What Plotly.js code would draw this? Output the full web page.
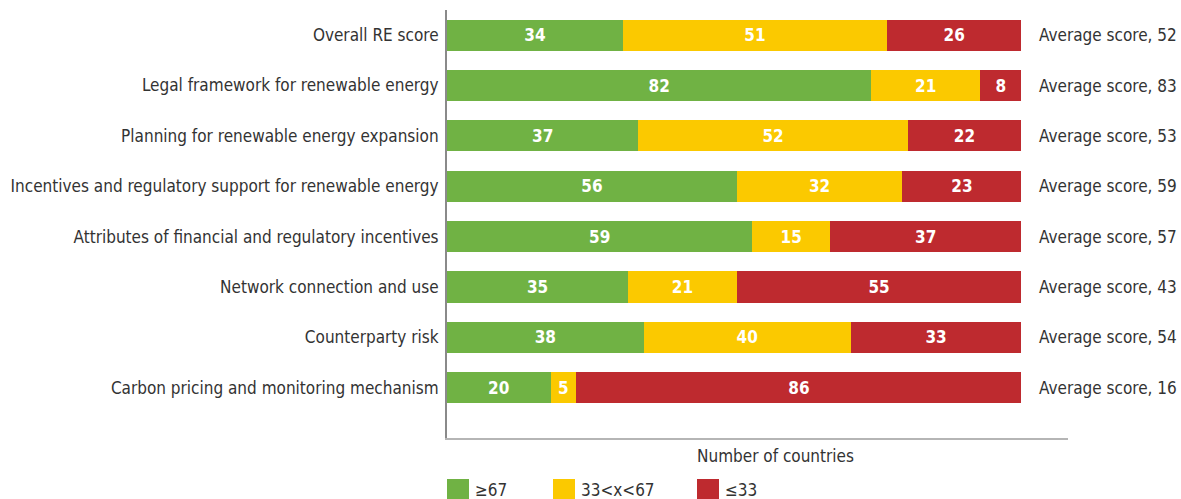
<!DOCTYPE html>
<html><head><meta charset="utf-8">
<script src="https://cdn.plot.ly/plotly-3.0.1.min.js"></script>
<style>html,body{margin:0;padding:0;background:#fff}#chart{width:1181px;height:499px}</style>
</head><body><div id="chart"></div>
<script>
const categories = [
  "Overall RE score",
  "Legal framework for renewable energy",
  "Planning for renewable energy expansion",
  "Incentives and regulatory support for renewable energy",
  "Attributes of financial and regulatory incentives",
  "Network connection and use",
  "Counterparty risk",
  "Carbon pricing and monitoring mechanism"
];
const high = [34, 82, 37, 56, 59, 35, 38, 20];
const mid = [51, 21, 52, 32, 15, 21, 40, 5];
const low = [26, 8, 22, 23, 37, 55, 33, 86];
const averageScores = [52, 83, 53, 59, 57, 43, 54, 16];
const seriesNames = ["\u226567", "33<x<67", "\u226433"];
const axisTitle = "Number of countries";

const FONT = '"Liberation Sans Narrow", "DejaVu Sans Condensed", "Roboto", sans-serif';
const colors = ["#70B244", "#FBC900", "#BE2A2F"];
const seriesVals = [high, mid, low];

const traces = seriesVals.map((vals, i) => ({
  type: 'bar', orientation: 'h',
  x: vals, y: categories, name: seriesNames[i],
  marker: {color: colors[i], line: {width: 0}},
  width: 0.62,
  text: vals.map(String), textposition: 'inside', insidetextanchor: 'middle',
  textangle: 0, constraintext: 'none',
  textfont: {family: FONT, size: 17, color: '#ffffff', weight: 'bold'},
  hoverinfo: 'x+y+name', showlegend: false
}));

const W = 1181, H = 499;
const mL = 447, mR = 113, mT = 10, mB = 61;
const pw = W - mL - mR, ph = H - mT - mB;
const px = v => (v - mL) / pw;   // pixel x -> paper
const py = v => 1 - (v - mT) / ph; // pixel y -> paper

const annotations = categories.map((c, i) => ({
  xref: 'x', yref: 'y', x: 114.1, y: c, xanchor: 'left', yanchor: 'middle',
  text: 'Average score, ' + averageScores[i], showarrow: false,
  font: {family: FONT, size: 17, color: '#333333'}
}));
annotations.push({
  xref: 'paper', yref: 'paper', x: px(775), y: py(456), xanchor: 'center', yanchor: 'middle',
  text: axisTitle, showarrow: false, font: {family: FONT, size: 17, color: '#333333'}
});
const shapes = [];
const legX = [447, 553, 697];
seriesNames.forEach((n, i) => {
  shapes.push({type: 'rect', xref: 'paper', yref: 'paper',
    x0: px(legX[i]), x1: px(legX[i] + 22), y0: py(499), y1: py(479),
    fillcolor: colors[i], line: {width: 0}});
  annotations.push({xref: 'paper', yref: 'paper', x: px(legX[i] + 26), y: py(490),
    xanchor: 'left', yanchor: 'middle', text: n, showarrow: false,
    font: {family: FONT, size: 17, color: '#333333'}});
});

const layout = {
  width: W, height: H,
  margin: {l: mL, r: mR, t: mT, b: mB, pad: 0},
  barmode: 'stack', bargap: 0.38,
  paper_bgcolor: '#ffffff', plot_bgcolor: '#ffffff',
  font: {family: FONT, size: 17, color: '#333333'},
  xaxis: {range: [0, 120], showticklabels: false, ticks: '', showgrid: false, zeroline: false,
    showline: true, linecolor: '#b5b5b5', linewidth: 1.5, fixedrange: true},
  yaxis: {type: 'category', range: [8.0, -0.5], showgrid: false, zeroline: false,
    showline: true, linecolor: '#8a8a8a', linewidth: 2, ticks: '', ticklabelstandoff: 3,
    tickfont: {family: FONT, size: 17, color: '#333333'}, fixedrange: true},
  annotations: annotations, shapes: shapes, showlegend: false
};
Plotly.newPlot('chart', traces, layout, {displayModeBar: false, staticPlot: true});
</script></body></html>
